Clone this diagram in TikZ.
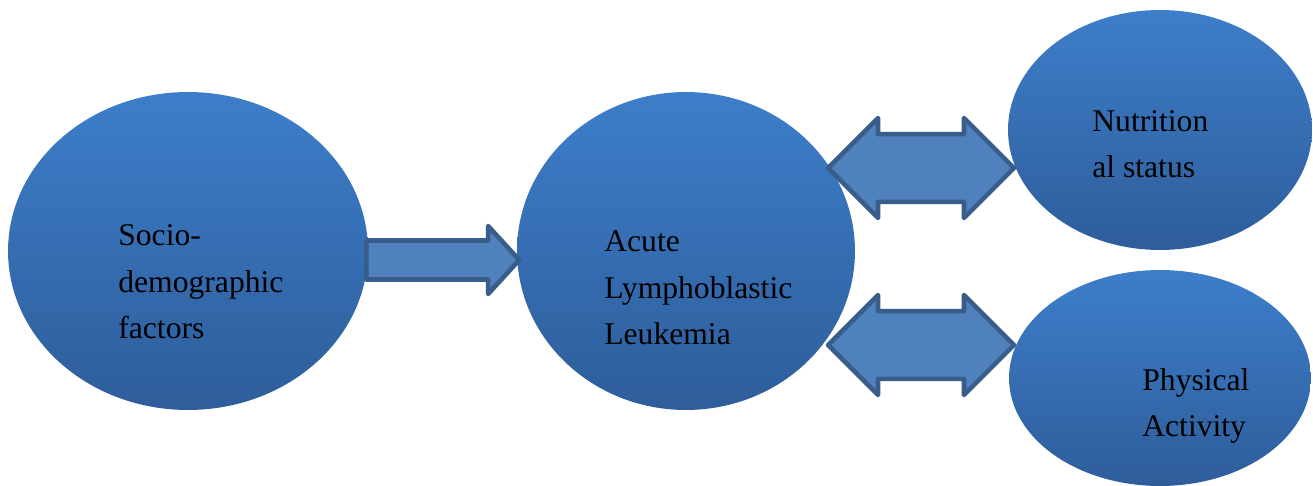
\documentclass[tikz,border=0pt]{standalone}
\usepackage{fontspec}
\setmainfont{Liberation Serif}
\definecolor{main}{RGB}{61,126,202}
\definecolor{second}{RGB}{46,93,154}
\definecolor{third}{RGB}{79,129,189}
\definecolor{fourth}{RGB}{56,93,138}
\usetikzlibrary{
	shapes.arrows,
	shapes.geometric,
	positioning,
	calc
}
\tikzset{
  % ellipse
	cstellipse/.style ={ellipse,inner sep=0pt,top color=main,bottom color=second,draw=none},
  % block arrow
	cstbarrow/.style  ={single arrow,single arrow tip angle=95,fill=third,draw=fourth,line width=2.6pt,line join=round,inner xsep=0pt,inner ysep=0.29cm,minimum height=3.06cm,minimum width=1.36cm},
	cstdbarrow/.style ={double arrow,fill=third,draw=fourth,line width=2.6pt,line join=round,inner xsep=0pt,inner ysep=0.48cm,minimum height=3.72cm,minimum width=2cm},
  % text (anchor on the last line)
	csttext/.style    ={align=left,inner sep=0pt,anchor=base west,font=\fontsize{18}{26.7}\selectfont}
}

\begin{document}
\begin{tikzpicture}[x=0.02cm,y=-0.02cm]
	\useasboundingbox (0,0) rectangle (1313,486);
	% ellipses
	\node[cstellipse,minimum width=7.2cm,minimum height=6.36cm] (soc) at (188,251) {};
	\node[cstellipse,minimum width=6.76cm,minimum height=6.36cm] (all) at (686,251) {};
	\node[cstellipse,minimum width=6.08cm,minimum height=4.8cm] (nut) at (1160,130) {};
	\node[cstellipse,minimum width=6.04cm,minimum height=4.32cm] (phy) at (1160,378) {};
	% arrows
	\node[cstbarrow,anchor=tail] (socall) at (364,260) {};
	\node[cstdbarrow] (allnut) at (921,168) {};
	\node[cstdbarrow] (allphy) at (921,345) {};
	% texts
	\node[csttext] (soct) at (118,339) {Socio-\\demographic\\factors};
	\node[csttext] (allt) at (604,345) {Acute\\Lymphoblastic\\Leukemia};
	\node[csttext] (nutt) at (1092,178) {Nutrition\\al status};
	\node[csttext] (phyt) at (1142,437) {Physical\\Activity};
\end{tikzpicture}
\end{document}
